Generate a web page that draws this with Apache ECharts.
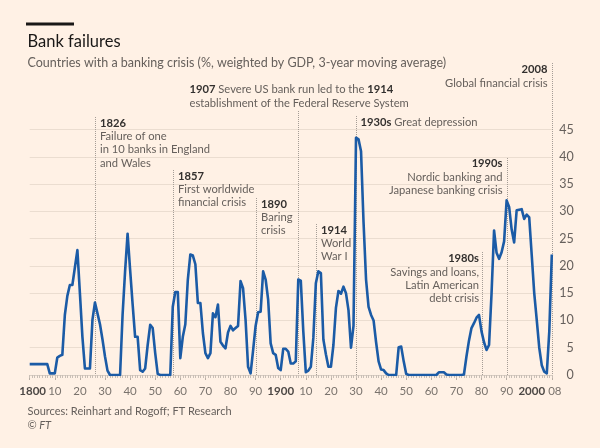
<!DOCTYPE html>
<html>
<head>
<meta charset="utf-8">
<script src="https://cdn.jsdelivr.net/npm/echarts@6/dist/echarts.min.js"></script>
<style>
html,body{margin:0;padding:0;background:#fff1e5;}
#c{width:600px;height:448px;}
</style>
</head>
<body>
<div id="c"></div>
<script>
// ---- data ----
const startYear = 1800;
const endYear = 2008;
// Countries with a banking crisis, % weighted by GDP, 3-year moving average, one value per year 1800..2008
const crisisShare = [
  2.0, 2.0, 2.0, 2.0, 2.0, 2.0, 2.0, 2.0, 0.3, 0.3,      // 1800s
  0.3, 3.2, 3.5, 3.7, 11.0, 14.5, 16.5, 16.5, 19.7, 22.9, // 1810s
  15.0, 7.0, 1.2, 1.2, 1.2, 10.1, 13.3, 11.3, 9.3, 6.5,   // 1820s
  3.4, 0.8, 0.0, 0.0, 0.0, 0.0, 0.0, 11.0, 19.0, 25.9,    // 1830s
  19.3, 13.0, 7.0, 7.0, 0.9, 0.6, 1.2, 5.5, 9.2, 8.6,     // 1840s
  4.0, 0.2, 0.0, 0.0, 0.0, 0.0, 0.0, 12.5, 15.2, 15.2,    // 1850s
  3.1, 7.0, 9.3, 17.5, 22.1, 21.9, 20.3, 13.2, 13.2, 7.7, // 1860s
  4.0, 3.1, 4.0, 11.3, 10.6, 12.9, 6.1, 5.4, 4.9, 7.8,    // 1870s
  9.0, 8.2, 8.6, 9.0, 17.2, 15.9, 10.1, 1.5, 0.3, 4.5,    // 1880s
  9.0, 11.5, 11.6, 19.0, 17.5, 13.8, 5.8, 4.0, 3.7, 1.3,  // 1890s
  0.9, 4.8, 4.8, 4.3, 2.1, 2.1, 2.5, 17.5, 17.3, 8.0,     // 1900s
  0.5, 0.8, 1.5, 6.8, 16.8, 19.0, 18.7, 6.5, 3.8, 1.5,    // 1910s
  1.5, 5.5, 12.3, 15.4, 14.9, 16.2, 15.0, 11.9, 5.0, 9.0, // 1920s
  43.5, 43.2, 41.0, 28.0, 17.5, 12.5, 11.0, 10.0, 6.0, 2.5, // 1930s
  1.0, 0.9, 0.3, 0.0, 0.0, 0.0, 0.0, 5.1, 5.2, 2.5,       // 1940s
  0.2, 0.0, 0.0, 0.0, 0.0, 0.0, 0.0, 0.0, 0.0, 0.0,       // 1950s
  0.0, 0.0, 0.0, 0.5, 0.5, 0.5, 0.1, 0.0, 0.0, 0.0,       // 1960s
  0.0, 0.0, 0.0, 0.1, 3.4, 6.3, 8.6, 9.5, 10.5, 11.0,     // 1970s
  8.0, 6.0, 4.6, 5.5, 15.0, 26.5, 22.4, 21.3, 22.5, 24.5, // 1980s
  32.0, 30.8, 26.7, 24.3, 30.2, 30.3, 30.4, 28.6, 29.4, 28.9, // 1990s
  22.0, 15.0, 10.1, 5.0, 1.8, 0.6, 0.3, 8.0, 22.1        // 2000s
];
const years = crisisShare.map((_, i) => startYear + i);
const yMin = 0, yMax = 45, yStep = 5;
const xStep = 10;
// x tick labels shown under the axis
const xTickYears = [1800, 1810, 1820, 1830, 1840, 1850, 1860, 1870, 1880, 1890,
                    1900, 1910, 1920, 1930, 1940, 1950, 1960, 1970, 1980, 1990, 2000, 2008];
const xTickLabels = ['1800', '10', '20', '30', '40', '50', '60', '70', '80', '90',
                     '1900', '10', '20', '30', '40', '50', '60', '70', '80', '90', '2000', '08'];

// annotation texts (year of the marker line, and the lines of text)
const annotationYears = [1826, 1857, 1890, 1907, 1914, 1930, 1980, 1990, 2008];
const annotationTexts = [
  ['{b|1826}', 'Failure of one', 'in 10 banks in England', 'and Wales'],
  ['{b|1857}', 'First worldwide', 'financial crisis'],
  ['{b|1890}', 'Baring', 'crisis'],
  ['{b|1907} Severe US bank run led to the {b|1914}', 'establishment of the Federal Reserve System'],
  ['{b|1914}', 'World', 'War I'],
  ['{b|1930s} Great depression'],
  ['{b|1980s}', 'Savings and loans,', 'Latin American', 'debt crisis'],
  ['{b|1990s}', 'Nordic banking and', 'Japanese banking crisis'],
  ['{b|2008}', 'Global financial crisis']
];

// ---- layout / style (not data) ----
const FONT = 'Lato, Roboto, sans-serif';
const GREY = '#66605c';
const DARK = '#33302e';
const BG = '#fff1e5';
const annLayout = [
  {top: 117, dx: 4.5, y: 123, align: 'left'},
  {top: 170, dx: 4.5, y: 176, align: 'left'},
  {top: 198, dx: 4.5, y: 204, align: 'left'},
  {top: 111, dx: -109, y: 89.5, align: 'left'},
  {top: 224, dx: 4.5, y: 230, align: 'left'},
  {top: 116, dx: 4, y: 122.5, align: 'left'},
  {top: 252, dx: -3.5, y: 258.5, align: 'right'},
  {top: 158, dx: -5, y: 163.5, align: 'right'},
  {top: 63, dx: -5, y: 69.5, align: 'right'}
];
const LH = 13.4;
const ANN_FS = 11.2;
const AX_FS = 11.5;

const chart = echarts.init(document.getElementById('c'), null, {renderer: 'canvas'});

const option = {
  backgroundColor: BG,
  animation: false,
  grid: {left: 29.7, right: 48.2, top: 129.5, bottom: 73, containLabel: false, outerBoundsMode: 'none'},
  xAxis: [
    {
      type: 'value', min: startYear, max: endYear, interval: xStep,
      axisLine: {show: true, lineStyle: {color: '#d9cec4', width: 1}},
      axisTick: {show: true, length: 5, lineStyle: {color: '#b9afa6', width: 1}},
      splitLine: {show: false},
      axisLabel: {show: false}
    },
    {
      type: 'value', min: startYear, max: endYear, interval: 1, position: 'bottom',
      axisLine: {show: false},
      axisTick: {show: true, length: 3, lineStyle: {color: '#c9bfb6', width: 1}},
      axisLabel: {show: false},
      splitLine: {show: false}
    }
  ],
  yAxis: {
    type: 'value', position: 'right', min: yMin, max: yMax, interval: yStep,
    axisLine: {show: false}, axisTick: {show: false},
    splitLine: {show: true, lineStyle: {color: '#ebddd0', width: 1}},
    axisLabel: {show: true, align: 'right', margin: 22, color: GREY, fontSize: 12.5, fontFamily: FONT}
  },
  series: [{
    type: 'line', xAxisIndex: 0, yAxisIndex: 0,
    data: years.map((y, i) => [y, crisisShare[i]]),
    showSymbol: false, symbol: 'none', smooth: false,
    lineStyle: {color: '#1b5ba6', width: 2.6, join: 'round'},
    z: 5
  }]
};
chart.setOption(option);

const y0 = chart.convertToPixel({yAxisIndex: 0}, 0);
const xp = v => chart.convertToPixel({xAxisIndex: 0}, v);
const graphics = [];
graphics.push({type: 'rect', shape: {x: 26, y: 22.5, width: 48, height: 3}, style: {fill: '#1a1817'}, silent: true});
graphics.push({type: 'text', x: 27.5, y: 42, silent: true,
  style: {text: 'Bank failures', fill: '#1a1817', fontSize: 16.5, fontFamily: FONT, textAlign: 'left', textVerticalAlign: 'middle'}});
graphics.push({type: 'text', x: 27.5, y: 63, silent: true,
  style: {text: 'Countries with a banking crisis (%, weighted by GDP, 3-year moving average)', fill: GREY, fontSize: 12.5, fontFamily: FONT, textAlign: 'left', textVerticalAlign: 'middle'}});
graphics.push({type: 'text', x: 27.5, y: 411, silent: true,
  style: {text: 'Sources: Reinhart and Rogoff; FT Research', fill: GREY, fontSize: 11, fontFamily: FONT, textAlign: 'left', textVerticalAlign: 'middle'}});
graphics.push({type: 'text', x: 27.5, y: 425, silent: true,
  style: {text: '© FT', fill: GREY, fontSize: 11, fontStyle: 'italic', fontFamily: FONT, textAlign: 'left', textVerticalAlign: 'middle'}});

// x tick labels, placed at the axis positions of their years
xTickYears.forEach((yr, i) => {
  const lab = xTickLabels[i];
  const bold = lab.length === 4;
  const first = i === 0;
  const last = i === xTickYears.length - 1;
  graphics.push({type: 'text', silent: true,
    x: xp(yr) + (first ? 3 : last ? 3 : 0), y: y0 + 16.5,
    style: {text: lab, fill: bold ? '#4d4845' : '#7a736d', fontSize: AX_FS, fontWeight: bold ? 'bold' : 'normal',
      fontFamily: FONT, textAlign: 'center', textVerticalAlign: 'middle'}});
});

annotationYears.forEach((yr, i) => {
  const L = annLayout[i];
  const x = Math.round(xp(yr)) + 0.5;
  graphics.push({type: 'line', silent: true, z: 1,
    shape: {x1: x, y1: L.top, x2: x, y2: y0},
    style: {stroke: '#a59d96', lineWidth: 1, lineDash: [1, 1]}});
  graphics.push({type: 'text', x: x + L.dx, y: L.y - LH / 2, silent: true, z: 10,
    style: {
      text: annotationTexts[i].join('\n'), fill: GREY, fontSize: ANN_FS, fontFamily: FONT,
      textAlign: L.align, textVerticalAlign: 'top', lineHeight: LH,
      rich: {b: {fontWeight: 'bold', fill: DARK, fontSize: ANN_FS, fontFamily: FONT, lineHeight: LH}}
    }});
});
chart.setOption({graphic: {elements: graphics}});
</script>
</body>
</html>
